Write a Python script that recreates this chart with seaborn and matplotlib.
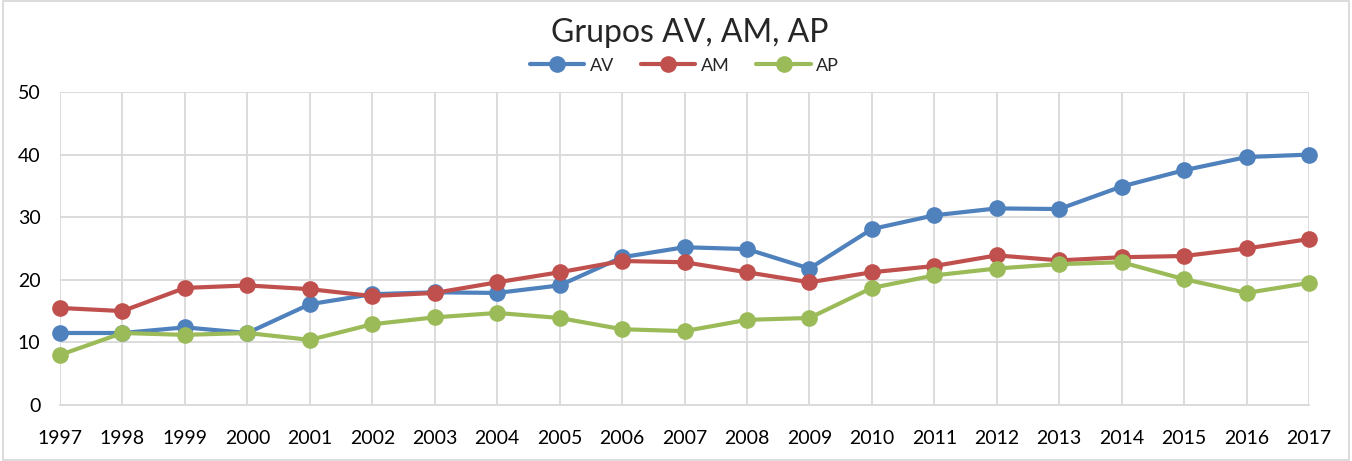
import numpy as np
import pandas as pd
import matplotlib
matplotlib.use("Agg")
import matplotlib.pyplot as plt
import seaborn as sns

# values
years = list(range(1997, 2018))
av = [11.5, 11.5, 12.4, 11.5, 16.1, 17.7, 18.0, 17.9, 19.1, 23.6, 25.2,
      24.9, 21.8, 28.1, 30.3, 31.4, 31.3, 34.9, 37.5, 39.6, 40.0]
am = [15.5, 15.0, 18.7, 19.1, 18.5, 17.4, 17.9, 19.6, 21.2, 23.0, 22.8,
      21.2, 19.6, 21.2, 22.2, 23.9, 23.1, 23.6, 23.8, 25.0, 26.5]
ap = [8.0, 11.5, 11.2, 11.5, 10.4, 12.9, 14.0, 14.7, 13.9, 12.1, 11.8,
      13.6, 13.9, 18.7, 20.7, 21.8, 22.5, 22.8, 20.1, 17.9, 19.5]
series_names = ["AV", "AM", "AP"]
colors = ["#4F81BD", "#C0504D", "#9BBB59"]

dt = pd.DataFrame({"year": years, "AV": av, "AM": am, "AP": ap})
dt = dt.melt(id_vars="year", var_name="grupo", value_name="valor")  # long format for seaborn

sns.set_style("white")
plt.rcParams['font.family'] = ['Lato', 'DejaVu Sans']

fig = plt.figure(figsize=(13.52, 4.61), dpi=100)
ax = fig.add_axes([0.0444, 0.1215, 0.9238, 0.679])

sns.lineplot(data=dt, x="year", y="valor", hue="grupo", hue_order=series_names,
             palette=colors, marker="o", markersize=12, markeredgewidth=0,
             linewidth=3, ax=ax, clip_on=False, zorder=3)

ax.set_xlim(1997, 2017)
ax.set_ylim(0, 50)
ax.set_xticks(years)
ax.set_yticks(range(0, 51, 10))
ax.tick_params(axis="both", labelsize=14, length=0, labelcolor="black")
ax.tick_params(axis="x", pad=18)
ax.tick_params(axis="y", pad=14)
ax.grid(True, color="#D9D9D9", linewidth=1.3)
ax.set_xlabel("")
ax.set_ylabel("")
for side in ["top", "right", "left"]:
    ax.spines[side].set_visible(False)
ax.spines["bottom"].set_color("#D9D9D9")
ax.spines["bottom"].set_linewidth(1.3)

fig.text(0.510, 1 - 33 / 461, "Grupos AV, AM, AP", fontsize=23, ha="center", va="center")
ax.legend(loc="lower center", bbox_to_anchor=(0.5, 1.035), ncol=3, frameon=False,
          fontsize=13, handlelength=3, columnspacing=1.5, handletextpad=0.3,
          borderaxespad=0.0)

# thin gray frame around the whole chart
fig.patches.append(plt.Rectangle((0.002, 0.003), 0.996, 0.994, transform=fig.transFigure,
                                 fill=False, edgecolor="#D9D9D9", linewidth=1.3))

fig.savefig("out.png", dpi=100)
